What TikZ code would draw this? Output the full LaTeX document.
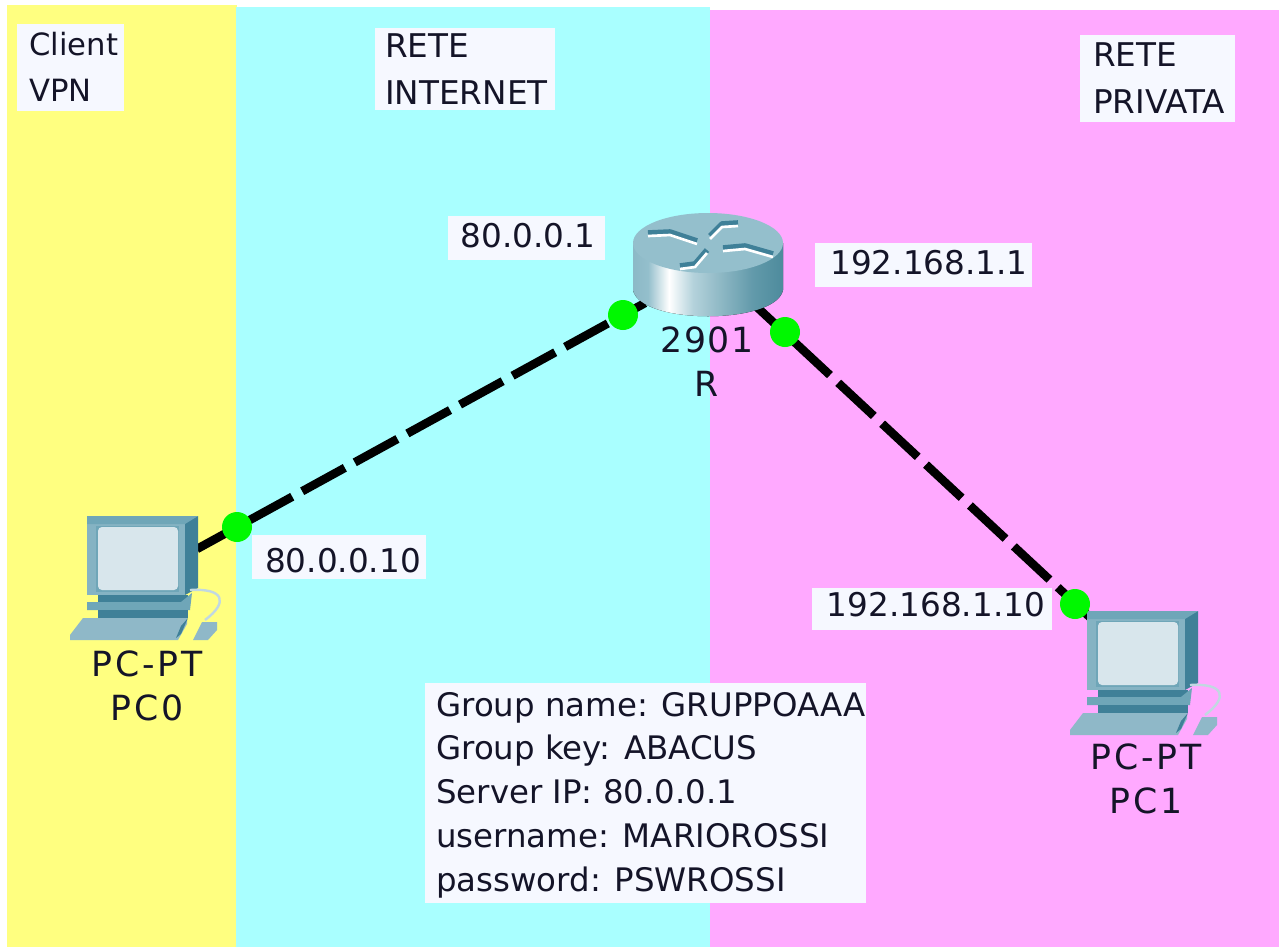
\documentclass[tikz,border=0pt]{standalone}
\usepackage{fontspec}
\setmainfont{DejaVu Sans}
\usetikzlibrary{calc,shapes.geometric}
\definecolor{zoneY}{HTML}{FFFF80}
\definecolor{zoneC}{HTML}{A9FFFF}
\definecolor{zoneM}{HTML}{FFA9FF}
\definecolor{lab}{HTML}{F6F8FF}
\definecolor{txt}{HTML}{141428}
\definecolor{pcA}{HTML}{6FA6B8}
\definecolor{pcB}{HTML}{3F8098}
\definecolor{pcC}{HTML}{D8E6EC}
\definecolor{pcD}{HTML}{8FB8C8}
\definecolor{rtA}{HTML}{94BFCC}
\definecolor{rtB}{HTML}{2F7488}
\definecolor{portgreen}{HTML}{00F800}
\pgfdeclarehorizontalshading{rtside}{100bp}{
  color(0bp)=(rtA!85!rtB); color(12bp)=(rtA!70!rtB); color(30bp)=(rtA); color(37bp)=(white); color(45bp)=(rtA!70!white); color(65bp)=(rtA!50!rtB); color(90bp)=(rtB); color(100bp)=(rtB!80!rtA)}
\tikzset{
  x=0.75pt,y=-0.75pt,
  boxfill/.style={fill=lab,inner sep=0pt,anchor=north west},
  twoline/.style={inner sep=0pt,align=left,text=txt,font=\fontsize{24.5}{35}\selectfont},
  ipaddr/.style={text=txt,font=\fontsize{24.5}{30}\selectfont,inner sep=0pt,anchor=center},
  devlabel/.style={inner sep=0pt,align=center,text=txt,font=\fontsize{26}{33}\selectfont\addfontfeature{LetterSpace=4}},
  pclabel/.style={devlabel,font=\fontsize{26}{32.5}\selectfont\addfontfeature{LetterSpace=8}},
  wire/.style={line width=6.4pt,black,dash pattern=on 36.5pt off 8.5pt},
  port/.style={circle,fill=portgreen,draw=none,minimum size=22.5pt,inner sep=0pt},
  pics/pcicon/.style={code={
    % side of monitor
    \fill[pcB] (116,-118) -- (129,-124) -- (129,-52) -- (116,-45) -- cycle;
    % front of monitor
    \fill[pcA!85!white] (18,-122) -- (116,-122) -- (116,-45) -- (18,-45) -- cycle;
    \fill[pcA] (18,-124) -- (129,-124) -- (116,-116) -- (18,-116) -- cycle;
    \fill[pcA] (27,-114) rectangle (110,-48);
    \fill[pcC,rounded corners=3pt] (29,-113) rectangle (109,-50);
    % stand and base
    \fill[pcB] (29,-45) rectangle (119,-38);
    \fill[pcA] (18,-38) -- (112,-38) -- (123,-47) -- (121,-30) -- (18,-30) -- cycle;
    \fill[pcB] (29,-30) rectangle (119,-22);
    % keyboard
    \fill[pcD] (14,-22) -- (118,-22) -- (118,-16) -- (109,0) -- (1,0) -- (1,-5) -- cycle;
    \fill[pcB] (119,-22) -- (112,-6) -- (107,-2) -- (112,-14) -- cycle;
    % mouse
    \fill[pcD] (133,-18) -- (148,-18) -- (148,-10) -- (139,0) -- (124,0) -- cycle;
    \draw[pcD!55!white,line width=1.8pt] (121,-50) .. controls (155,-52) and (160,-38) .. (136,-20);
  }}
}
\begin{document}
\begin{tikzpicture}
\useasboundingbox (0,0) rectangle (1279,947);
\fill[white] (0,0) rectangle (1279,947);
\fill[zoneY] (7,5) rectangle (237,947);
\fill[zoneC] (236,7) rectangle (710,947);
\fill[zoneM] (710,10) rectangle (1279,947);

% text boxes
\node[boxfill,minimum width=80.25pt,minimum height=65.25pt] (bClient) at (17,24) {};
\node[twoline,anchor=west,font=\fontsize{23}{35}\selectfont] (tClient) at (29,67) {Client\\VPN};
\node[boxfill,minimum width=135pt,minimum height=61.5pt] (bInternet) at (375,28) {};
\node[twoline,anchor=west] (tInternet) at (385,69) {RETE\\INTERNET};
\node[boxfill,minimum width=116.25pt,minimum height=65.25pt] (bPrivata) at (1080,35) {};
\node[twoline,anchor=west] (tPrivata) at (1093,78) {RETE\\PRIVATA};

\node[boxfill,minimum width=117.75pt,minimum height=33pt] (bA) at (448,216) {};
\node[ipaddr] (tA) at (528,236) {80.0.0.1};
\node[boxfill,minimum width=162.75pt,minimum height=33pt] (bB) at (815,243) {};
\node[ipaddr] (tB) at (929,263) {192.168.1.1};
\node[boxfill,minimum width=130.5pt,minimum height=33pt] (bC) at (252,535) {};
\node[ipaddr] (tC) at (343,561) {80.0.0.10};
\node[boxfill,minimum width=180pt,minimum height=31.5pt] (bD) at (812,588) {};
\node[ipaddr] (tD) at (936,605) {192.168.1.10};

\node[boxfill,minimum width=330.75pt,minimum height=165pt] (bE) at (425,683) {};
\node[anchor=west,inner sep=0pt,align=left,text=txt,font=\fontsize{24.3}{32.8}\selectfont] (tE) at (436,795) {Group name: GRUPPOAAA\\Group key: ABACUS\\Server IP: 80.0.0.1\\username: MARIOROSSI\\password: PSWROSSI};

% connectors
\coordinate (pc0) at (197,549);
\coordinate (rtL) at (645,303);
\coordinate (rtR) at (750.4,301);
\coordinate (pc1) at (1095,622);
\draw[wire] (pc0) -- (rtL);
\draw[wire] (rtR) -- (pc1);

% devices
\pic (iconA) at (69,640) {pcicon};
\pic (iconB) at (1069,735) {pcicon};

% router
\fill[shading=rtside] (633,243) -- (633,290) .. controls (640,325) and (776,325) .. (783,290) -- (783,243) -- cycle;
\node[draw=none,fill=rtA,ellipse,inner sep=0pt,minimum width=112.5pt,minimum height=45pt] (router) at (708,243) {};
\foreach \a/\b/\c/\d/\e/\f in {648/233/670/232/697/241,710/236/722/224/738/223,723/248/745/246/773/254,680/266/695/264/707/250}{
  \draw[pcB,line width=4.2pt,line join=round] (\a,\b) -- (\c,\d) -- (\e,\f);
  \draw[white,line width=2pt,line join=round] (\a,\b+3) -- (\c,\d+3) -- (\e,\f+3);
}

% ports
\node[port] (p1) at (237,527) {};
\node[port] (p2) at (623,315) {};
\node[port] (p3) at (785,332) {};
\node[port] (p4) at (1075,604) {};

% device labels
\node[pclabel] (lA) at (147,686) {PC-PT\\PC0};
\node[pclabel] (lB) at (1146,779) {PC-PT\\PC1};
\node[devlabel] (lR) at (707,362) {2901\\R};
\end{tikzpicture}
\end{document}
